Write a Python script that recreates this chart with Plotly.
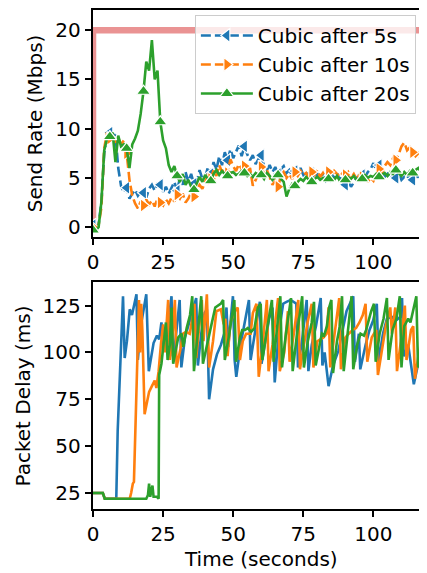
import plotly.graph_objects as go

# ---------------- data ----------------
t_rate = list(range(120))

rate_cubic5 = [0.2, 0.1, 0.3, 2.5, 7.5, 9.3, 9.6, 9.2, 9.4, 6.0,
               4.2, 3.5, 4.0, 2.9, 3.4, 3.8, 3.2, 3.6, 3.5, 3.0,
               3.9, 4.3, 3.7, 4.4, 4.3, 3.6, 4.1, 3.4, 4.0, 4.6,
               3.7, 5.0, 4.3, 5.6, 4.6, 5.4, 4.4, 4.6, 5.8, 4.9,
               5.1, 6.1, 5.4, 6.6, 5.8, 7.2, 6.3, 7.6, 6.8, 7.9,
               7.0, 7.6, 8.3, 7.2, 8.2, 7.4, 6.8, 7.3, 6.4, 6.9,
               7.3, 6.2, 5.8, 6.3, 5.6, 6.1, 5.4, 5.9, 6.2, 5.5,
               5.8, 5.2, 5.7, 5.4, 6.0, 5.3, 5.6, 5.1, 5.5, 5.0,
               5.4, 4.9, 5.3, 4.7, 5.1, 5.4, 5.0, 5.5, 4.8, 5.2,
               4.3, 4.8, 4.1, 4.6, 5.0, 4.7, 5.3, 5.1, 5.6, 5.9,
               6.5, 5.8, 6.3, 5.6, 5.1, 5.4, 4.9, 5.2, 5.0, 5.5,
               4.8, 5.1, 4.9, 5.3, 4.8, 5.0, 5.2, 4.9, 5.3, 5.1]

rate_cubic10 = [0.0, -0.1, 0.2, 2.0, 8.0, 9.6, 9.0, 9.4, 8.6, 9.0,
                8.4, 8.8, 7.5, 4.8, 3.2, 2.4, 1.9, 2.6, 2.2, 2.8,
                2.3, 2.7, 2.1, 2.9, 2.5, 2.2, 2.8, 2.4, 3.0, 2.6,
                3.3, 2.9, 3.4, 2.5, 2.9, 3.5, 3.1, 3.8, 4.3, 3.9,
                4.6, 5.4, 4.9, 5.8, 5.2, 6.3, 5.6, 6.1, 5.5, 6.9,
                6.2, 5.7, 6.4, 5.9, 6.2, 5.6, 6.0, 4.2, 4.8, 5.5,
                6.1, 5.4, 5.8, 5.1, 4.3, 4.7, 4.1, 5.2, 5.6, 5.0,
                5.4, 4.9, 5.6, 5.2, 5.7, 5.3, 5.5, 5.0, 5.6, 5.3,
                5.8, 5.1, 5.5, 5.0, 5.6, 5.2, 5.7, 5.4, 5.1, 5.5,
                5.3, 5.6, 5.0, 5.4, 4.9, 5.3, 5.1, 5.5, 4.6, 5.0,
                4.7, 5.4, 5.9, 5.5, 6.2, 6.6, 6.3, 7.0, 6.8, 7.4,
                8.2, 8.6, 7.8, 8.1, 7.6, 7.2, 7.5, 6.8, 7.1, 6.5]

rate_cubic20 = [-0.3, -0.3, 0.0, 2.6, 7.8, 9.0, 9.2, 9.6, 6.6, 9.3,
                8.2, 8.4, 8.0, 6.0, 8.4, 9.0, 9.8, 11.5, 13.8, 16.8,
                15.9, 19.0, 15.0, 15.9, 10.7, 8.8, 8.0, 6.3, 5.6, 6.2,
                5.2, 4.6, 5.4, 4.3, 4.8, 4.1, 3.8, 4.4, 5.1, 4.6,
                5.3, 4.9, 4.7, 5.4, 5.8, 5.3, 5.7, 5.4, 5.2, 5.5,
                5.6, 5.3, 5.4, 5.7, 5.5, 5.2, 5.4, 5.1, 5.5, 5.3,
                5.3, 4.9, 5.5, 5.2, 4.8, 5.1, 5.3, 4.9, 4.6, 3.1,
                3.9, 4.4, 4.2, 4.6, 4.9, 4.7, 5.1, 4.8, 4.6, 4.9,
                5.1, 4.8, 5.0, 4.7, 4.9, 5.1, 4.8, 5.2, 4.7, 4.9,
                4.8, 5.1, 4.9, 5.2, 4.8, 5.0, 4.9, 5.3, 5.0, 5.2,
                5.1, 5.4, 5.1, 5.3, 5.5, 5.2, 5.6, 5.4, 5.8, 5.5,
                5.2, 5.6, 5.3, 5.7, 5.5, 5.8, 6.0, 5.6, 6.1, 5.9]

capacity_t = [0, 0, 120]
capacity_v = [0, 20, 20]

delay5_t = [0, 3.5, 4.2, 8.3, 8.8, 10.7, 11.3, 12.1, 13.1, 13.9, 15.5, 16.0, 16.9, 19.0, 19.9,
            21.6, 22.8, 23.6, 24.4, 25.3, 26.4, 28.0, 28.5, 29.3, 30.9, 31.5, 32.8, 34.4, 36.8,
            37.4, 38.6, 39.8, 40.6, 41.4, 42.8, 44.2, 45.6, 46.8, 47.6, 48.2, 49.9, 50.5, 51.1,
            52.6, 54.2, 55.6, 56.2, 57.6, 59.5, 60.1, 61.4, 62.8, 64.0, 64.8, 66.2, 67.8, 69.0,
            70.5, 72.5, 73.1, 74.6, 76.2, 76.8, 78.0, 79.5, 81.2, 81.8, 82.6, 84.0, 85.6, 87.5,
            89.0, 90.4, 92.8, 93.4, 94.8, 95.3, 97.2, 98.6, 99.9, 101.2, 101.8, 103.4, 104.8,
            106.5, 108.0, 109.6, 110.2, 110.8, 112.4, 114.4, 115.8, 117.7, 119.0]
delay5_v = [25, 25, 22, 22, 58, 130, 97, 106, 123, 120, 131, 96, 113, 131, 90,
            105, 109, 107, 116, 101, 110, 130, 98, 105, 128, 92, 108, 117, 129,
            93, 110, 121, 123, 75, 91, 99, 104, 110, 124, 103, 130, 96, 87,
            104, 116, 128, 96, 110, 127, 94, 106, 118, 124, 84, 110, 126, 127,
            128, 126, 92, 107, 128, 90, 104, 114, 129, 93, 100, 82, 93, 101,
            112, 122, 130, 95, 110, 91, 104, 112, 117, 126, 95, 110, 118,
            119, 117, 119, 129, 98, 104, 83, 93, 101, 102]

delay10_t = [0, 3.5, 4.2, 13.1, 13.6, 14.2, 14.6, 16.4, 16.8, 17.2, 17.6, 18.4, 19.2, 20.0,
             21.0, 22.0, 22.6, 23.4, 24.2, 25.0, 25.6, 26.8, 27.4, 28.2, 29.2, 29.8, 31.2,
             32.0, 33.2, 34.5, 35.4, 36.2, 36.8, 38.8, 39.4, 40.6, 41.4, 42.8, 44.0, 45.6,
             46.6, 47.2, 48.0, 49.0, 50.6, 51.6, 52.4, 53.4, 54.6, 56.2, 57.0, 58.3, 59.1,
             60.6, 62.0, 62.6, 64.0, 65.4, 66.0, 66.6, 68.2, 69.5, 70.1, 71.6, 73.2, 73.8,
             75.2, 76.5, 78.0, 78.6, 80.0, 81.0, 82.2, 83.3, 84.0, 84.6, 86.2, 87.8, 88.4,
             90.0, 91.2, 92.6, 93.8, 95.0, 96.2, 97.2, 97.8, 99.4, 100.2, 101.0, 101.6,
             103.0, 104.4, 106.0, 106.6, 107.8, 108.4, 109.8, 111.2, 111.8, 113.4, 114.2,
             114.8, 116.2, 117.4, 118.2, 119.0]
delay10_v = [25, 25, 22, 22, 25, 30, 31, 128, 100, 126, 112, 67, 73, 79,
             82, 85, 81, 90, 104, 115, 100, 128, 96, 106, 128, 92, 102,
             110, 111, 110, 118, 126, 97, 128, 106, 131, 92, 106, 122, 123,
             115, 118, 98, 116, 122, 124, 96, 106, 110, 110, 121, 126, 87,
             106, 128, 90, 104, 120, 129, 90, 100, 122, 95, 110, 128, 91,
             104, 116, 126, 92, 106, 107, 108, 110, 124, 92, 112, 129, 91,
             108, 110, 112, 113, 116, 120, 126, 95, 108, 110, 112, 88,
             102, 114, 124, 110, 124, 90, 106, 125, 96, 112, 114,
             86, 100, 108, 102, 105]

delay20_t = [0, 3.5, 4.2, 19.0, 19.6, 20.0, 20.4, 21.2, 21.6, 22.8, 23.4, 23.6, 24.4, 25.4,
             26.0, 26.6, 27.4, 28.0, 28.6, 29.6, 30.4, 31.6, 32.2, 33.4, 34.6, 35.4, 36.0,
             37.2, 38.6, 39.2, 40.8, 42.4, 43.6, 44.6, 45.6, 46.4, 47.0, 48.6, 50.4, 51.0,
             52.4, 53.2, 54.2, 55.2, 56.4, 57.6, 58.8, 59.8, 60.4, 62.0, 63.2, 63.8, 64.4,
             65.8, 66.8, 67.4, 68.8, 70.6, 71.2, 72.6, 74.6, 75.2, 76.6, 78.0, 78.8, 79.4,
             80.6, 81.6, 82.4, 83.4, 84.2, 85.0, 85.6, 87.0, 88.0, 88.8, 89.4, 90.8, 92.2,
             92.8, 94.2, 95.4, 96.6, 97.4, 99.2, 100.2, 100.8, 102.2, 103.6, 104.8, 105.4,
             106.8, 108.2, 109.4, 110.0, 111.0, 112.4, 113.2, 114.2, 115.3, 115.9, 117.2,
             118.2, 119.0]
delay20_v = [25, 25, 22, 22, 24, 30, 23, 29, 23, 23, 22, 88, 94, 110,
             116, 96, 104, 124, 94, 102, 108, 110, 103, 113, 120, 130, 90,
             108, 130, 94, 106, 116, 124, 125, 126, 128, 96, 110, 128, 95,
             108, 112, 112, 113, 111, 113, 124, 126, 96, 112, 124, 128, 95,
             116, 130, 92, 110, 129, 90, 108, 130, 92, 106, 116, 127, 93,
             102, 110, 109, 114, 124, 128, 89, 106, 114, 130, 90, 112, 130,
             91, 104, 110, 109, 112, 122, 126, 95, 110, 118, 129, 96,
             112, 118, 130, 92, 114, 118, 116, 122, 130, 92, 104,
             114, 108]

series_names = ["Cubic after 5s", "Cubic after 10s", "Cubic after 20s"]
colors = ["#1f77b4", "#ff7f0e", "#2ca02c"]
symbols = ["triangle-left", "triangle-right", "triangle-up"]
dashes = ["10px,4px", "10px,4px", "solid"]
mark_every = 6

# ---------------- figure ----------------
FONT = "DejaVu Sans"
FS = 20
fig = go.Figure()

fig.add_trace(go.Scatter(x=capacity_t, y=capacity_v, mode="lines",
                         line=dict(color="rgba(214,39,40,0.5)", width=6.5),
                         showlegend=False, hoverinfo="skip", xaxis="x", yaxis="y"))

rates = [rate_cubic5, rate_cubic10, rate_cubic20]
for name, vals, c, s, d in zip(series_names, rates, colors, symbols, dashes):
    fig.add_trace(go.Scatter(x=t_rate, y=vals, mode="lines",
                             line=dict(color=c, width=2.6, dash=d),
                             showlegend=False, xaxis="x", yaxis="y"))
    fig.add_trace(go.Scatter(x=t_rate[::mark_every], y=vals[::mark_every], mode="markers",
                             marker=dict(symbol=s, color=c, size=12,
                                         line=dict(color="white", width=1.2)),
                             showlegend=False, xaxis="x", yaxis="y"))

for name, c, s, d in zip(series_names, colors, symbols, dashes):
    fig.add_trace(go.Scatter(x=[None], y=[None], mode="lines+markers", name=name,
                             line=dict(color=c, width=2.6, dash=d),
                             marker=dict(symbol=s, color=c, size=12,
                                         line=dict(color="white", width=1.2)),
                             xaxis="x", yaxis="y"))

delays = [(delay5_t, delay5_v), (delay10_t, delay10_v), (delay20_t, delay20_v)]
for (tt, vv), c in zip(delays, colors):
    fig.add_trace(go.Scatter(x=tt, y=vv, mode="lines",
                             line=dict(color=c, width=2.6),
                             showlegend=False, xaxis="x2", yaxis="y2"))

axis_common = dict(showgrid=False, zeroline=False, showline=True, linecolor="black",
                   linewidth=1.5, ticks="outside", ticklen=6.5, tickwidth=1.5,
                   tickcolor="black", tickfont=dict(family=FONT, size=FS, color="black"))

# The page body adds an 8px offset, so the figure is 8px smaller and margins are shifted.
fig.update_layout(
    width=419, height=565,
    margin=dict(l=85, r=0, t=0, b=64),
    paper_bgcolor="white", plot_bgcolor="white",
    font=dict(family=FONT, size=FS, color="black"),
    xaxis=dict(domain=[0, 1], anchor="y", range=[0, 119.1], tickvals=[0, 25, 50, 75, 100],
               mirror=True, **axis_common),
    yaxis=dict(domain=[0.5457, 1.0], anchor="x", range=[-0.97, 22.05],
               tickvals=[0, 5, 10, 15, 20], mirror=False, **axis_common),
    xaxis2=dict(domain=[0, 1], anchor="y2", range=[0, 119.1], tickvals=[0, 25, 50, 75, 100],
                mirror=True, **axis_common),
    yaxis2=dict(domain=[0, 0.455], anchor="x2", range=[16.5, 137.6],
                tickvals=[25, 50, 75, 100, 125], mirror=False, **axis_common),
    legend=dict(x=0.305, y=0.99, xanchor="left", yanchor="top",
                bgcolor="rgba(255,255,255,0.8)", bordercolor="#cccccc", borderwidth=1,
                font=dict(family=FONT, size=FS, color="black"), itemwidth=52),
    showlegend=True,
    annotations=[
        dict(text="Send Rate (Mbps)", x=-0.1737, y=0.773, xref="paper", yref="paper",
             textangle=-90, showarrow=False, xanchor="center", yanchor="middle",
             font=dict(family=FONT, size=FS, color="black")),
        dict(text="Packet Delay (ms)", x=-0.2096, y=0.2275, xref="paper", yref="paper",
             textangle=-90, showarrow=False, xanchor="center", yanchor="middle",
             font=dict(family=FONT, size=FS, color="black")),
        dict(text="Time (seconds)", x=0.503, y=-0.0998, xref="paper", yref="paper",
             showarrow=False, xanchor="center", yanchor="middle",
             font=dict(family=FONT, size=FS, color="black")),
    ],
)

fig.write_html("out.html")
